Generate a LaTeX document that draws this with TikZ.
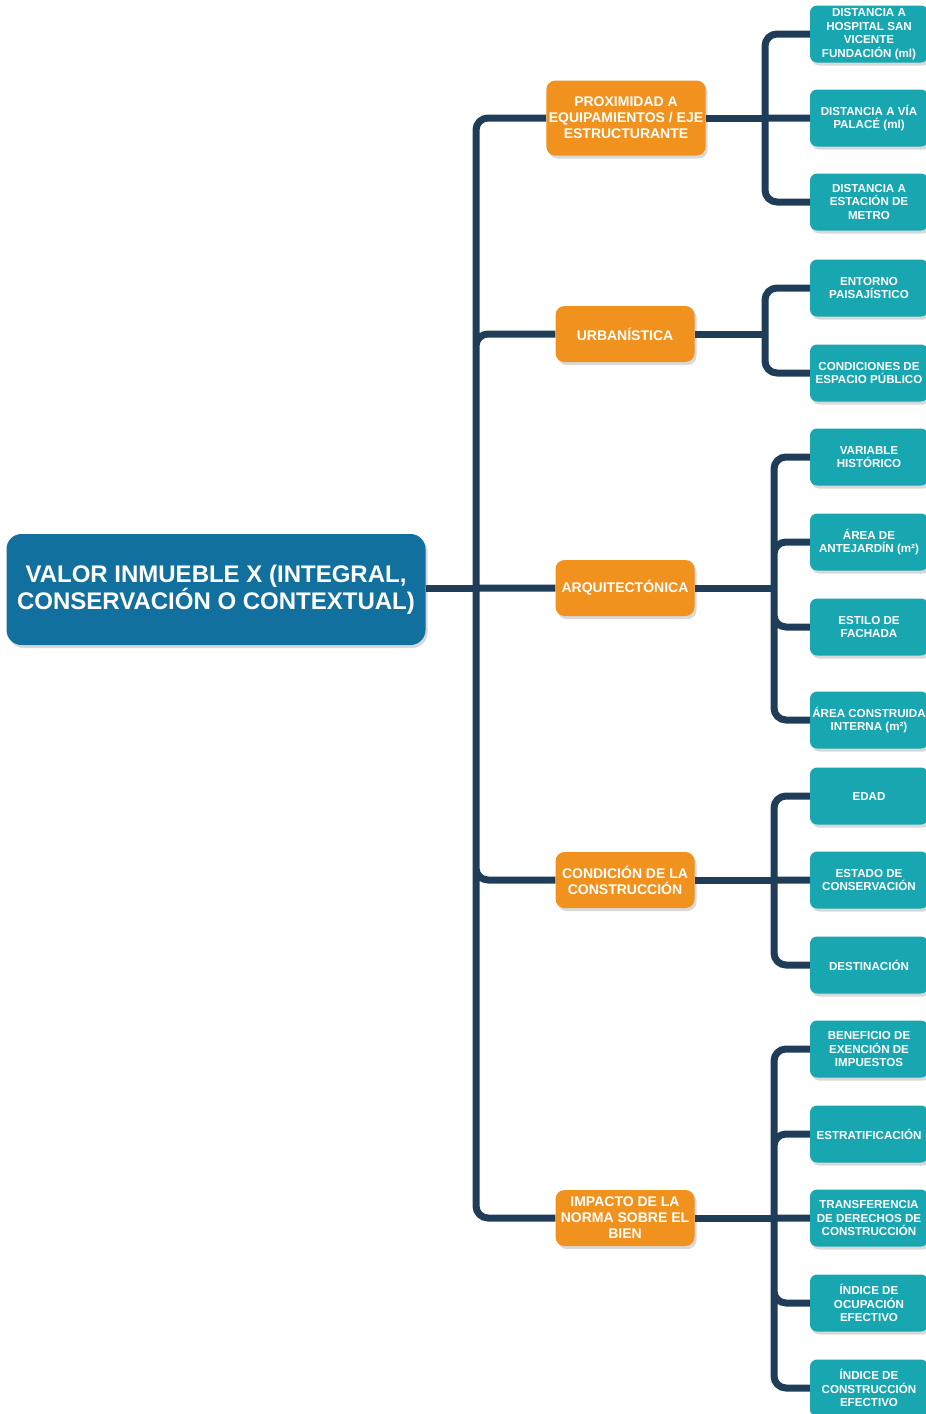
\documentclass[tikz,border=0pt]{standalone}
\usepackage{fontspec}
\setmainfont{Liberation Sans}
\usepackage{tikz}
\usepackage{xcolor}
\usetikzlibrary{shadows}
\definecolor{mainblue}{HTML}{11709E}
\definecolor{catorange}{HTML}{F2921E}
\definecolor{leafteal}{HTML}{18A6B0}
\definecolor{linenavy}{HTML}{1F3D58}

\begin{document}
\begin{tikzpicture}[x=1pt,y=-1pt,
  box/.style={rounded corners=9pt,text=white,align=center,inner sep=2.5pt,drop shadow={opacity=0.3,shadow xshift=2pt,shadow yshift=-3pt}},
  root/.style={box,fill=mainblue,rounded corners=15pt,minimum width=419pt,minimum height=111pt,font=\fontsize{24}{27}\selectfont\bfseries},
  cat/.style={box,fill=catorange,minimum width=139pt,minimum height=56pt,font=\fontsize{14}{16}\selectfont\bfseries},
  leaf/.style={box,fill=leafteal,rounded corners=7pt,inner sep=1pt,minimum width=118pt,minimum height=57pt,font=\fontsize{11.6}{13.5}\selectfont\bfseries},
  link/.style={draw=linenavy,line width=7pt,rounded corners=12pt}]
\useasboundingbox (0,0) rectangle (926,1414);

\node[root] (v) at (216,589.5) {VALOR INMUEBLE X (INTEGRAL,\\CONSERVACIÓN O CONTEXTUAL)};

\node[cat,minimum height=75pt] (p) at (626,118) {PROXIMIDAD A\\EQUIPAMIENTOS / EJE\\ESTRUCTURANTE};
\node[cat] (u) at (625,334) {URBANÍSTICA};
\node[cat] (a) at (625,588) {ARQUITECTÓNICA};
\node[cat] (c) at (625,880) {CONDICIÓN DE LA\\CONSTRUCCIÓN};
\node[cat] (i) at (625,1218) {IMPACTO DE LA\\NORMA SOBRE EL\\BIEN};

\node[leaf] (p1) at (869,34) {DISTANCIA A\\HOSPITAL SAN\\VICENTE\\FUNDACIÓN (ml)};
\node[leaf] (p2) at (869,118) {DISTANCIA A VÍA\\PALACÉ (ml)};
\node[leaf] (p3) at (869,202) {DISTANCIA A\\ESTACIÓN DE\\METRO};
\node[leaf] (u1) at (869,288) {ENTORNO\\PAISAJÍSTICO};
\node[leaf] (u2) at (869,373) {CONDICIONES DE\\ESPACIO PÚBLICO};
\node[leaf] (a1) at (869,457) {VARIABLE\\HISTÓRICO};
\node[leaf] (a2) at (869,542) {ÁREA DE\\ANTEJARDÍN (m²)};
\node[leaf] (a3) at (869,627) {ESTILO DE\\FACHADA};
\node[leaf] (a4) at (869,720) {ÁREA CONSTRUIDA\\INTERNA (m²)};
\node[leaf] (c1) at (869,796) {EDAD};
\node[leaf] (c2) at (869,880) {ESTADO DE\\CONSERVACIÓN};
\node[leaf] (c3) at (869,965) {DESTINACIÓN};
\node[leaf] (i1) at (869,1049) {BENEFICIO DE\\EXENCIÓN DE\\IMPUESTOS};
\node[leaf] (i2) at (869,1134) {ESTRATIFICACIÓN};
\node[leaf] (i3) at (869,1218) {TRANSFERENCIA\\DE DERECHOS DE\\CONSTRUCCIÓN};
\node[leaf] (i4) at (869,1303) {ÍNDICE DE\\OCUPACIÓN\\EFECTIVO};
\node[leaf] (i5) at (869,1388) {ÍNDICE DE\\CONSTRUCCIÓN\\EFECTIVO};

\coordinate (t) at (476,588);
\coordinate (tp) at (765,118);
\coordinate (tu) at (765,334);
\coordinate (ta) at (774,588);
\coordinate (tc) at (774,880);
\coordinate (ti) at (774,1218);

\draw[link] (v.east |- t) -- (t);
\draw[link] (t) |- (p) (t) |- (u) (t) -- (a) (t) |- (c) (t) |- (i);
\draw[link] (p) -- (tp) (u) -- (tu) (a) -- (ta) (c) -- (tc) (i) -- (ti);
\draw[link] (tp) |- (p1) (tp) -- (p2) (tp) |- (p3);
\draw[link] (tu) |- (u1) (tu) |- (u2);
\draw[link] (ta) |- (a1) (ta) |- (a2) (ta) |- (a3) (ta) |- (a4);
\draw[link] (tc) |- (c1) (tc) -- (c2) (tc) |- (c3);
\draw[link] (ti) |- (i1) (ti) |- (i2) (ti) -- (i3) (ti) |- (i4) (ti) |- (i5);
\end{tikzpicture}
\end{document}
